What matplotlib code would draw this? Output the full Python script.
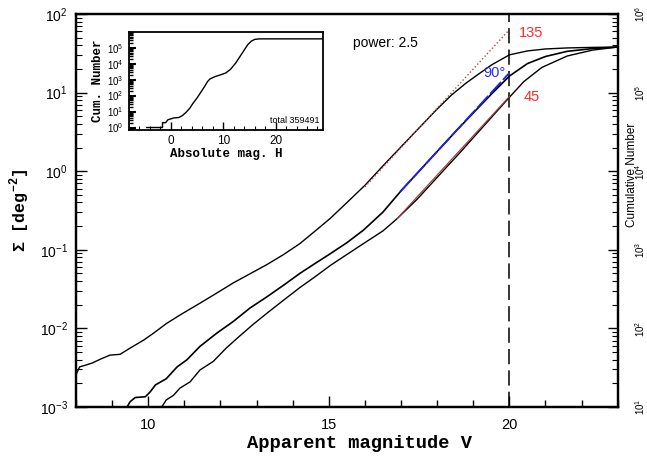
import matplotlib
matplotlib.use("Agg")
import matplotlib.pyplot as plt
from matplotlib.ticker import MultipleLocator, LogLocator, FixedLocator, NullFormatter

plt.rcParams['font.family'] = ['Liberation Sans', 'DejaVu Sans']
plt.rcParams['mathtext.fontset'] = 'custom'
plt.rcParams['mathtext.rm'] = 'Liberation Sans'

# ---- main curves: apparent magnitude V vs surface density (deg^-2) ----
v135 = [8.0, 8.1, 8.25, 8.45, 8.68, 8.94, 9.22, 9.5, 9.87, 10.15, 10.5, 10.88, 11.43, 11.9,
        12.36, 12.8, 13.28, 13.75, 14.2, 14.6, 15.04, 15.5, 16.0, 16.5, 17.0, 17.5, 18.0,
        18.4, 18.8, 19.1, 19.5, 20.0, 20.5, 21.0, 21.6, 22.3, 23.0]
s135 = [2.57e-3, 3.24e-3, 3.39e-3, 3.63e-3, 4.07e-3, 4.57e-3, 4.68e-3, 5.62e-3, 7.08e-3,
        8.71e-3, 1.15e-2, 1.48e-2, 2.09e-2, 2.82e-2, 3.80e-2, 4.90e-2, 6.46e-2, 8.71e-2,
        0.120, 0.170, 0.251, 0.398, 0.661, 1.17, 2.04, 3.55, 6.17, 9.33, 13.2, 16.6, 22.4,
        30.2, 33.9, 35.9, 37.0, 37.6, 38.0]

v90 = [9.35, 9.5, 9.64, 9.92, 10.05, 10.2, 10.5, 10.8, 11.07, 11.43, 11.9, 12.36, 12.82,
       13.28, 13.75, 14.2, 14.6, 15.04, 15.5, 15.96, 16.5, 17.0, 17.5, 18.0, 18.5, 19.0,
       19.5, 20.0, 20.5, 21.0, 21.6, 22.3, 23.0]
s90 = [8.9e-4, 1.17e-3, 1.32e-3, 1.35e-3, 1.55e-3, 1.91e-3, 2.29e-3, 3.24e-3, 3.98e-3,
       5.89e-3, 8.71e-3, 1.23e-2, 1.82e-2, 2.51e-2, 3.55e-2, 5.01e-2, 6.61e-2, 8.91e-2,
       0.123, 0.178, 0.302, 0.562, 1.0, 1.78, 3.16, 5.50, 9.55, 16.2, 23.4, 28.8, 33.5,
       36.3, 38.0]

v45 = [10.3, 10.5, 10.7, 10.88, 11.16, 11.43, 11.8, 12.16, 12.5, 12.9, 13.28, 13.75, 14.2,
       14.6, 15.04, 15.5, 15.96, 16.5, 16.9, 17.44, 17.8, 18.2, 18.6, 19.3, 20.0, 20.4,
       20.9, 21.6, 22.3, 23.0]
s45 = [8.9e-4, 1.23e-3, 1.41e-3, 1.74e-3, 2.09e-3, 2.95e-3, 3.80e-3, 5.62e-3, 7.76e-3,
       1.12e-2, 1.55e-2, 2.29e-2, 3.31e-2, 4.47e-2, 6.31e-2, 8.71e-2, 0.120, 0.174, 0.251,
       0.437, 0.661, 1.05, 1.66, 3.80, 8.71, 13.8, 20.9, 29.2, 34.7, 38.0]

# power-law fits (power 2.5)
fit_v135 = [16.0, 20.0]
fit_s135 = [0.631, 63.1]
fit_v90 = [16.98, 20.0]
fit_s90 = [0.55, 17.8]
fit_v45 = [16.9, 20.0]
fit_s45 = [0.251, 8.91]

v_limit = 20.0

# ---- inset: cumulative number vs absolute magnitude H ----
h_inset = [-4.6, -1.6, -1.6, -1.0, -0.6, 0.0, 0.6, 1.5, 2.2, 2.9, 3.6, 4.2, 5.0, 5.5,
           6.0, 6.5, 7.0, 7.5, 8.5, 9.5, 10.5, 11.4, 12.4, 13.4, 14.2, 14.7, 15.4, 16.0,
           16.7, 17.5, 29.5]
n_inset = [1, 1, 2, 2, 3, 3.5, 4, 4.2, 5.6, 8.9, 16, 32, 71, 126, 224, 400, 760, 1120,
           1580, 2000, 2630, 4470, 11200, 35500, 89100, 158000, 263000, 331000, 355000,
           359491, 359491]
total_label = "total 359491"

W, H = 647, 457
fig = plt.figure(figsize=(W / 100, H / 100), dpi=100)
L, R, T, B = 76, 617.7, 14, 407
ax = fig.add_axes([L / W, 1 - B / H, (R - L) / W, (B - T) / H])

ax.plot(v135, s135, color='black', lw=1.0, zorder=3)
ax.plot(v90, s90, color='black', lw=1.2, zorder=3)
ax.plot(v45, s45, color='black', lw=1.0, zorder=3)
ax.plot(fit_v135, fit_s135, color='#b04848', lw=1.0, ls=(0, (1, 1.6)), zorder=4)
ax.plot(fit_v90, fit_s90, color='#2020ee', lw=1.3, ls=(0, (9, 1.5)), zorder=4)
ax.plot(fit_v45, fit_s45, color='#a04040', lw=0.9, zorder=4)
ax.axvline(v_limit, color='black', lw=1.1, ls=(0, (10, 4)), zorder=2)

ax.set_yscale('log')
ax.set_xlim(8, 23)
ax.set_ylim(1e-3, 1e2)
ax.xaxis.set_major_locator(FixedLocator([10, 15, 20]))
ax.xaxis.set_minor_locator(MultipleLocator(1))
ax.yaxis.set_major_locator(LogLocator(base=10, numticks=10))
ax.yaxis.set_minor_locator(LogLocator(base=10, subs=range(2, 10), numticks=20))
ax.yaxis.set_minor_formatter(NullFormatter())
ax.tick_params(which='both', direction='in', top=False, right=False)
ax.tick_params(axis='x', which='major', length=8, width=1, labelsize=10.5, pad=8)
ax.tick_params(axis='x', which='minor', length=5, width=1)
ax.tick_params(axis='y', which='major', length=8, width=1, labelsize=10, pad=6)
ax.tick_params(axis='y', which='minor', length=4, width=0.8)
for s in ax.spines.values():
    s.set_linewidth(1.6)

ax.set_xlabel('Apparent magnitude V', family='Liberation Mono', weight='bold', fontsize=13.5)
ax.xaxis.set_label_coords(0.524, -0.072)
ax.set_ylabel(r'Σ [deg$^{\mathdefault{-2}}$]', family='Liberation Mono', weight='bold',
              fontsize=12)
ax.yaxis.set_label_coords(-0.081, 0.5)

ax.text(16.56, 42.5, 'power: 2.5', ha='center', va='center', fontsize=10)
ax.text(20.25, 57, '135', ha='left', va='center', fontsize=10.5, color='#ff2a2a')
ax.text(19.6, 17.8, '90°', ha='center', va='center', fontsize=10.5, color='#2a2aff')
ax.text(20.63, 8.8, '45', ha='center', va='center', fontsize=10.5, color='#ff2a2a')

# right axis: cumulative number
ax2 = ax.twinx()
ax2.set_yscale('log')
ax2.set_ylim(1e1, 1e6)
ax2.yaxis.set_major_locator(LogLocator(base=10, numticks=10))
ax2.yaxis.set_minor_locator(LogLocator(base=10, subs=range(2, 10), numticks=20))
ax2.yaxis.set_minor_formatter(NullFormatter())
ax2.tick_params(which='both', direction='in')
ax2.tick_params(which='major', length=7, width=1, labelsize=7, pad=11, labelrotation=90)
ax2.tick_params(which='minor', length=4, width=0.8)
for lab in ax2.get_yticklabels():
    lab.set_va('center')
for s in ax2.spines.values():
    s.set_linewidth(1.6)
fig.text(632 / W, 1 - 175 / H, 'Cumulative Number', rotation=90, ha='center', va='center',
         fontsize=8.5)

# inset
iL, iR, iT, iB = 129, 322.7, 32.5, 129.5
axi = fig.add_axes([iL / W, 1 - iB / H, (iR - iL) / W, (iB - iT) / H])
axi.plot(h_inset, n_inset, color='black', lw=1.0)
axi.set_yscale('log')
axi.set_xlim(-8, 29)
axi.set_ylim(0.75, 9e5)
axi.xaxis.set_major_locator(FixedLocator([0, 10, 20]))
axi.xaxis.set_minor_locator(MultipleLocator(2))
axi.yaxis.set_major_locator(LogLocator(base=10, numticks=10))
axi.yaxis.set_minor_locator(LogLocator(base=10, subs=range(2, 10), numticks=20))
axi.yaxis.set_minor_formatter(NullFormatter())
axi.tick_params(which='both', direction='in', top=False, right=False)
axi.tick_params(axis='x', which='major', length=6, width=1, labelsize=8.5, pad=4)
axi.tick_params(axis='x', which='minor', length=3, width=0.8)
axi.tick_params(axis='y', which='major', length=5, width=1.5, labelsize=7, pad=4)
axi.tick_params(axis='y', which='minor', length=3, width=1.0)
for s in axi.spines.values():
    s.set_linewidth(1.3)
axi.set_xlabel('Absolute mag. H', family='Liberation Mono', weight='bold', fontsize=9, labelpad=1)
axi.set_ylabel('Cum. Number', family='Liberation Mono', weight='bold', fontsize=9, labelpad=2)
axi.text(0.985, 0.05, total_label, transform=axi.transAxes, ha='right', va='bottom',
         fontsize=6.5)

fig.savefig('out.png', dpi=100)
